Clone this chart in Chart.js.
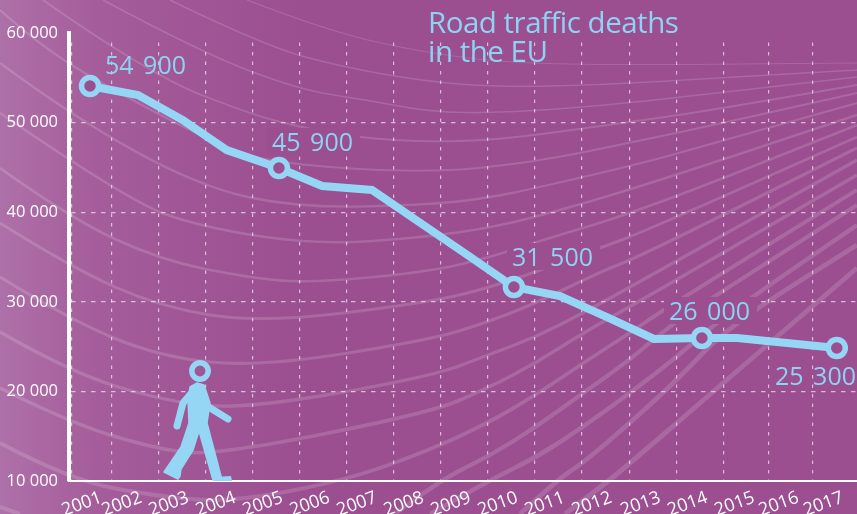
<!DOCTYPE html>
<html>
<head>
<meta charset="utf-8">
<title>Road traffic deaths in the EU</title>
<script src="https://cdn.jsdelivr.net/npm/chart.js@4/dist/chart.umd.min.js"></script>
<style>
  html, body { margin: 0; padding: 0; background: #9b4e90; }
  canvas { display: block; }
</style>
</head>
<body>
<canvas id="roadChart" width="857" height="514"></canvas>
<script>
// Data
const years = [2001, 2002, 2003, 2004, 2005, 2006, 2007, 2008, 2009, 2010, 2011, 2012, 2013, 2014, 2015, 2016, 2017];
const yearPositions = [2001, 2002.02, 2002.97, 2003.91, 2005.02, 2005.94, 2007, 2008, 2009, 2010.02, 2011, 2012, 2013, 2014.02, 2014.77, 2015.83, 2016.89];
const deaths = [54085, 53080, 50290, 46940, 44930, 42920, 42480, 38910, 35330, 31650, 30650, 28300, 25850, 25960, 25960, 25400, 24840];
const calloutYears = [2001, 2005, 2010, 2014, 2017];
const calloutTexts = ['54 900', '45 900', '31 500', '26 000', '25 300'];
const yearTicks = [2000.6, 2001.45, 2002.45, 2003.45, 2004.45, 2005.45, 2006.45, 2007.45, 2008.45, 2009.45, 2010.45, 2011.45, 2012.49, 2013.49, 2014.49, 2015.43, 2016.38];

const LINE_BLUE = '#95d6f5';
const TEXT_BLUE = '#8fd3f2';
const PURPLE = '#9b4e90';

// Where each callout sits: left edge and baseline, and whether it masks what is behind it
const calloutPlaces = [
  { x: 105, y: 74 },
  { x: 272, y: 151, mask: true },
  { x: 512, y: 266, mask: true },
  { x: 669, y: 320, mask: true },
  { x: 775, y: 385 }
];

// Decorative fan of curves behind the plot, as waypoints
const backgroundCurves = [
  [[247, 0], [330, 32], [427, 53], [510, 63], [627, 65], [857, 63]],
  [[170, 0], [267, 47], [347, 68], [430, 82], [500, 87], [600, 85], [700, 79], [857, 70]],
  [[103, 0], [200, 52], [300, 90], [367, 100], [430, 112], [500, 113], [600, 106], [700, 95], [857, 77]],
  [[43, 0], [150, 75], [253, 115], [300, 127], [360, 138], [430, 142], [488, 140], [536, 135], [630, 122], [700, 112], [857, 85]],
  [[0, 10], [37, 43], [100, 83], [227, 150], [290, 165], [430, 173], [536, 162], [643, 140], [700, 128], [857, 93]],
  [[0, 63], [73, 117], [200, 187], [300, 208], [427, 205], [488, 198], [536, 188], [643, 163], [700, 147], [857, 103]],
  [[0, 113], [127, 200], [200, 227], [317, 245], [427, 237], [488, 228], [536, 217], [643, 186], [857, 115]],
  [[0, 168], [70, 218], [160, 260], [250, 278], [310, 283], [427, 272], [488, 258], [536, 242], [643, 210], [857, 125]],
  [[0, 223], [70, 267], [160, 307], [260, 323], [427, 303], [500, 285], [600, 248], [643, 232], [857, 137]],
  [[0, 277], [70, 320], [160, 357], [260, 367], [430, 340], [488, 322], [536, 303], [600, 272], [643, 255], [857, 148]],
  [[0, 332], [70, 372], [160, 400], [240, 410], [430, 377], [488, 355], [536, 337], [583, 313], [643, 280], [857, 160]],
  [[0, 388], [70, 423], [160, 450], [217, 455], [430, 413], [488, 388], [536, 363], [583, 333], [647, 297], [857, 175]],
  [[0, 443], [70, 480], [160, 497], [233, 502], [347, 480], [430, 450], [488, 423], [536, 395], [583, 363], [630, 333], [663, 310], [857, 190]],
  [[0, 507], [20, 514]],
  [[395, 514], [440, 480], [488, 457], [536, 427], [583, 393], [630, 360], [673, 323], [740, 280], [857, 205]],
  [[430, 514], [490, 480], [537, 457], [583, 427], [630, 393], [677, 357], [723, 317], [857, 225]],
  [[520, 514], [557, 480], [583, 463], [630, 423], [677, 380], [730, 325], [857, 245]],
  [[565, 514], [610, 480], [630, 463], [677, 423], [723, 383], [857, 268]]
];

function smoothCurve(ctx, pts) {
  ctx.beginPath();
  ctx.moveTo(pts[0][0], pts[0][1]);
  for (let i = 1; i < pts.length - 1; i++) {
    const midX = (pts[i][0] + pts[i + 1][0]) / 2;
    const midY = (pts[i][1] + pts[i + 1][1]) / 2;
    ctx.quadraticCurveTo(pts[i][0], pts[i][1], midX, midY);
  }
  const last = pts[pts.length - 1];
  ctx.lineTo(last[0], last[1]);
  ctx.stroke();
}

// Page background and the curves
const backdrop = {
  id: 'backdrop',
  // rotated last label makes the layout keep a margin, the axis runs to the edge here
  afterLayout(chart) {
    const x = chart.scales.x;
    chart.chartArea.right = 857;
    chart.chartArea.width = 788;
    x.right = 857;
    x.width = 788;
    x.configure();
  },
  beforeDraw(chart) {
    const ctx = chart.ctx;
    const bg = ctx.createLinearGradient(0, 0, 857, 0);
    bg.addColorStop(0, '#ae70a8');
    bg.addColorStop(0.12, '#a45c9a');
    bg.addColorStop(0.36, '#9b4e90');
    bg.addColorStop(1, '#9b4e90');
    ctx.save();
    ctx.fillStyle = bg;
    ctx.fillRect(0, 0, 857, 514);
    ctx.strokeStyle = 'rgba(255,255,255,0.15)';
    ctx.lineCap = 'butt';
    backgroundCurves.forEach((pts, i) => {
      ctx.lineWidth = 1.2 + i * 0.22;
      smoothCurve(ctx, pts);
    });
    ctx.restore();
  }
};

// Purple patches behind the callouts that cut the grid and the curves
const calloutMasks = {
  id: 'calloutMasks',
  beforeDatasetsDraw(chart) {
    const ctx = chart.ctx;
    ctx.save();
    ctx.fillStyle = PURPLE;
    calloutPlaces.forEach(p => {
      if (p.mask) ctx.fillRect(p.x - 5, p.y - 23, 93, 27);
    });
    ctx.restore();
  }
};

function drawWalker(ctx) {
  ctx.save();
  ctx.fillStyle = LINE_BLUE;
  ctx.strokeStyle = LINE_BLUE;
  ctx.lineCap = 'round';
  ctx.lineJoin = 'round';

  ctx.lineWidth = 5.5;
  ctx.beginPath();
  ctx.arc(200, 371, 8.2, 0, Math.PI * 2);
  ctx.stroke();

  const body = [[190, 387], [197, 383], [204, 385], [210, 403], [207, 423], [222, 480], [213, 480], [199, 431], [193, 450], [181, 469], [180, 476], [178, 479], [164, 472], [181, 447], [189, 423], [188, 400]];
  ctx.lineWidth = 1.5;
  ctx.beginPath();
  body.forEach((p, i) => i ? ctx.lineTo(p[0], p[1]) : ctx.moveTo(p[0], p[1]));
  ctx.closePath();
  ctx.fill();
  ctx.stroke();

  ctx.lineWidth = 7;
  ctx.beginPath();
  ctx.moveTo(194, 390);
  ctx.lineTo(183, 403);
  ctx.lineTo(177, 426);
  ctx.moveTo(207, 406);
  ctx.lineTo(228, 419);
  ctx.stroke();

  ctx.beginPath();
  ctx.moveTo(214, 477);
  ctx.lineTo(231, 476);
  ctx.lineTo(232, 481);
  ctx.lineTo(214, 481);
  ctx.closePath();
  ctx.fill();
  ctx.restore();
}

// Title, callouts and the walking figure
const overlay = {
  id: 'overlay',
  afterDatasetsDraw(chart) {
    const ctx = chart.ctx;
    ctx.save();
    ctx.textAlign = 'left';
    ctx.textBaseline = 'alphabetic';
    ctx.fillStyle = TEXT_BLUE;
    ctx.font = '29.5px "Open Sans"';
    ctx.letterSpacing = '-0.5px';
    ctx.fillText('Road traffic deaths', 428, 33);
    ctx.fillText('in the EU', 428, 62);
    ctx.letterSpacing = '0px';
    ctx.font = '25px "Open Sans"';
    ctx.wordSpacing = '3px';
    calloutTexts.forEach((t, i) => ctx.fillText(t, calloutPlaces[i].x, calloutPlaces[i].y));
    ctx.restore();
    drawWalker(ctx);
  }
};

const isCallout = c => calloutYears.includes(years[c.dataIndex]);

new Chart(document.getElementById('roadChart'), {
  type: 'line',
  data: {
    datasets: [{
      data: years.map((y, i) => ({ x: yearPositions[i], y: deaths[i] })),
      borderColor: LINE_BLUE,
      borderWidth: 8,
      tension: 0,
      pointRadius: c => isCallout(c) ? 8.5 : 0,
      pointBorderWidth: 5.5,
      pointBorderColor: LINE_BLUE,
      pointBackgroundColor: PURPLE,
      clip: false
    }]
  },
  options: {
    responsive: false,
    animation: false,
    events: [],
    layout: { padding: { top: 33 } },
    plugins: { legend: { display: false }, tooltip: { enabled: false }, title: { display: false } },
    scales: {
      x: {
        type: 'linear',
        min: 2000.553,
        max: 2017.32,
        afterBuildTicks: s => { s.ticks = yearTicks.map(v => ({ value: v })); },
        afterFit: s => { s.height = 33; },
        grid: {
          drawTicks: false,
          // vertical dashes start a little below the top of the axis
          color: c => {
            const g = c.chart.ctx.createLinearGradient(0, 33, 0, 481);
            g.addColorStop(0, 'rgba(255,255,255,0)');
            g.addColorStop(0.0155, 'rgba(255,255,255,0)');
            g.addColorStop(0.0156, 'rgba(255,255,255,0.62)');
            g.addColorStop(1, 'rgba(255,255,255,0.62)');
            return g;
          },
          lineWidth: 1.2
        },
        border: { color: '#ffffff', width: 2, dash: [3.5, 6] },
        ticks: {
          autoSkip: false,
          maxRotation: 20,
          minRotation: 20,
          padding: 6,
          labelOffset: 30,
          color: '#ffffff',
          font: { family: '"Open Sans"', size: 18 },
          callback: (v, i) => String(years[i])
        }
      },
      y: {
        min: 10000,
        max: 60000,
        afterFit: s => { s.width = 69; },
        grid: {
          drawTicks: false,
          color: c => (c.tick.value === 10000 || c.tick.value === 60000) ? 'rgba(0,0,0,0)' : 'rgba(255,255,255,0.62)',
          lineWidth: 1.2
        },
        border: { color: '#ffffff', width: 4, dash: [4.5, 5.5] },
        ticks: {
          stepSize: 10000,
          padding: 11,
          color: '#ffffff',
          font: { family: '"Open Sans"', size: 16.5 },
          callback: v => String(v).replace(/(\d{2})(\d{3})/, '$1 $2')
        }
      }
    }
  },
  plugins: [backdrop, calloutMasks, overlay]
});
</script>
</body>
</html>
